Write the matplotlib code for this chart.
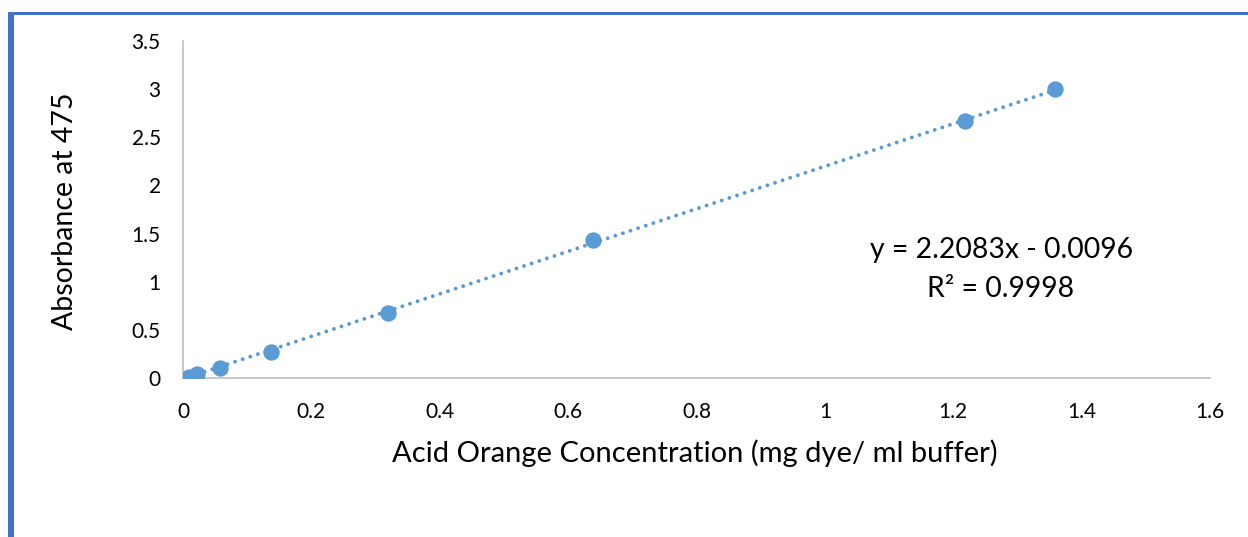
import matplotlib
matplotlib.use("Agg")
import matplotlib.pyplot as plt
import numpy as np
from matplotlib.patches import Rectangle

conc = [0.01, 0.022, 0.058, 0.137, 0.319, 0.639, 1.218, 1.358]
absorb = [0.01, 0.04, 0.10, 0.27, 0.675, 1.43, 2.67, 3.00]
slope = 2.2083
intercept = -0.0096
x_ticks = [0, 0.2, 0.4, 0.6, 0.8, 1, 1.2, 1.4, 1.6]
x_tick_labels = ["0", "0.2", "0.4", "0.6", "0.8", "1", "1.2", "1.4", "1.6"]
y_ticks = [0, 0.5, 1, 1.5, 2, 2.5, 3, 3.5]
y_tick_labels = ["0", "0.5", "1", "1.5", "2", "2.5", "3", "3.5"]

plt.rcParams['font.family'] = ['Lato', 'DejaVu Sans']

W, H = 1248, 537
fig = plt.figure(figsize=(W / 100, H / 100), dpi=100)
ax = fig.add_axes([183 / W, 1 - 378 / H, (1210 - 183) / W, (378 - 41) / H])

color = "#5B9BD5"
xs = np.array([min(conc), max(conc)])
ax.plot(xs, slope * xs + intercept, color=color, lw=2.8,
        linestyle=(0, (0.01, 2.05)), dash_capstyle='round', zorder=2)
ax.plot(conc, absorb, 'o', color=color, markersize=11.8, markeredgewidth=0, zorder=3)

ax.set_xlim(0, 1.6)
ax.set_ylim(0, 3.5)
ax.set_xticks(x_ticks)
ax.set_xticklabels(x_tick_labels)
ax.set_yticks(y_ticks)
ax.set_yticklabels(y_tick_labels)
ax.tick_params(length=0, labelsize=15, colors="#000000")
ax.tick_params(axis='x', pad=17)
ax.tick_params(axis='y', pad=16)
for s in ['top', 'right']:
    ax.spines[s].set_visible(False)
for s in ['left', 'bottom']:
    ax.spines[s].set_color("#BFBFBF")
    ax.spines[s].set_linewidth(1.2)

fig.text(695 / W, 1 - 453 / H, "Acid Orange Concentration (mg dye/ ml buffer)",
         fontsize=21, ha='center', va='center')
fig.text(65 / W, 1 - 211 / H, "Absorbance at 475", rotation=90, fontsize=20.5,
         ha='center', va='center')

fig.text(1002 / W, 1 - 250 / H, "y = 2.2083x - 0.0096", fontsize=20.4, ha='center', va='center')
fig.text(1001 / W, 1 - 289 / H, "R² = 0.9998", fontsize=20.4, ha='center', va='center')

# document frame
fig.patches.append(Rectangle((8 / W, 0), 6 / W, 1 - 12 / H, transform=fig.transFigure,
                             color="#4472C4", lw=0, zorder=0))
fig.patches.append(Rectangle((8 / W, 1 - 15 / H), 1 - 8 / W, 3 / H, transform=fig.transFigure,
                             color="#4472C4", lw=0, zorder=0))

fig.savefig("out.png", dpi=100)
